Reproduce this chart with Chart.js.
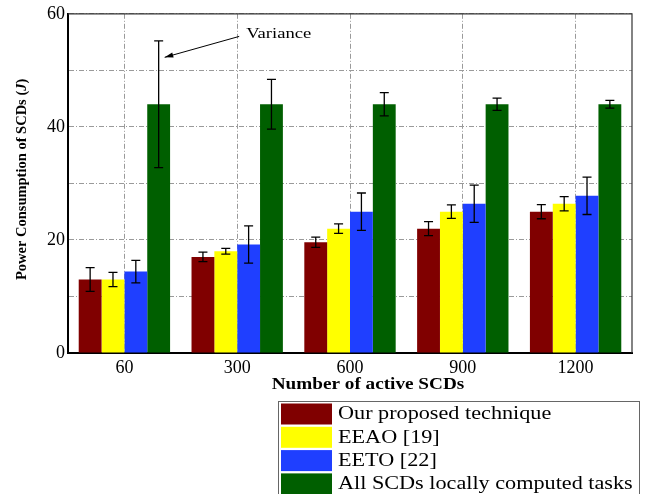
<!DOCTYPE html>
<html>
<head>
<meta charset="utf-8">
<script src="https://cdn.jsdelivr.net/npm/chart.js@4.4.1/dist/chart.umd.min.js"></script>
<style>
  html, body { margin: 0; padding: 0; background: #fff; }
  #wrap { width: 649px; height: 494px; position: relative; }
</style>
</head>
<body>
<div id="wrap"><canvas id="myChart"></canvas></div>
<script>
const categories = ['60', '300', '600', '900', '1200'];
const seriesNames = ['Our proposed technique', 'EEAO [19]', 'EETO [22]', 'All SCDs locally computed tasks'];
const seriesColors = ['#800000', '#ffff00', '#1f3fff', '#005f00'];
const proposed = [13.0, 17.0, 19.6, 22.0, 25.0];
const eeao = [13.0, 18.0, 22.0, 25.0, 26.4];
const eeto = [14.4, 19.2, 25.0, 26.4, 27.8];
const local = [44, 44, 44, 44, 44];
// half-length of each error bar
const proposedErr = [2.1, 0.85, 0.9, 1.25, 1.25];
const eeaoErr = [1.25, 0.5, 0.85, 1.2, 1.25];
const eetoErr = [2.0, 3.3, 3.3, 3.3, 3.3];
const localErr = [11.2, 4.4, 2.05, 1.1, 0.7];
const yTickLabels = [0, 20, 40, 60];

const SERIF = '"Liberation Serif", "Times New Roman", serif';

// text drawn a bit wider than the font, like the rest of the figure
function wideText(ctx, text, x, y, align) {
    ctx.save();
    ctx.translate(x, y);
    ctx.scale(1.2, 1);
    ctx.textAlign = align || 'left';
    ctx.fillText(text, 0, 0);
    ctx.restore();
}

const errorBars = {
    id: 'errorBars',
    afterDatasetsDraw(chart) {
        const { ctx, scales: { y } } = chart;
        ctx.save();
        ctx.strokeStyle = '#000';
        ctx.lineWidth = 1.3;
        chart.data.datasets.forEach((ds, i) => {
            chart.getDatasetMeta(i).data.forEach((bar, j) => {
                const top = y.getPixelForValue(ds.data[j] + ds.errors[j]);
                const bot = y.getPixelForValue(ds.data[j] - ds.errors[j]);
                ctx.beginPath();
                ctx.moveTo(bar.x, top); ctx.lineTo(bar.x, bot);
                ctx.moveTo(bar.x - 4.5, top); ctx.lineTo(bar.x + 4.5, top);
                ctx.moveTo(bar.x - 4.5, bot); ctx.lineTo(bar.x + 4.5, bot);
                ctx.stroke();
            });
        });
        ctx.restore();
    }
};

const extras = {
    id: 'extras',
    afterDraw(chart) {
        const { ctx, chartArea: a, scales: { x, y } } = chart;
        ctx.save();

        // top and right frame
        ctx.strokeStyle = '#333';
        ctx.lineWidth = 1.2;
        ctx.beginPath();
        ctx.moveTo(a.left, a.top); ctx.lineTo(a.right, a.top); ctx.lineTo(a.right, a.bottom);
        ctx.stroke();

        // axis titles
        ctx.fillStyle = '#000';
        ctx.textBaseline = 'middle';
        ctx.font = 'bold 16px ' + SERIF;
        wideText(ctx, 'Number of active SCDs', (a.left + a.right) / 2 + 18, a.bottom + 32, 'center');

        ctx.save();
        ctx.translate(22, (a.top + a.bottom) / 2 - 4);
        ctx.rotate(-Math.PI / 2);
        const parts = [['Power Consumption of SCDs (', 'bold'], ['J', 'italic bold'], [')', 'bold']];
        let total = 0;
        parts.forEach(p => { ctx.font = p[1] + ' 14.5px ' + SERIF; total += ctx.measureText(p[0]).width; });
        let px = -total / 2;
        ctx.textAlign = 'left';
        parts.forEach(p => {
            ctx.font = p[1] + ' 14.5px ' + SERIF;
            ctx.fillText(p[0], px, 0);
            px += ctx.measureText(p[0]).width;
        });
        ctx.restore();

        // "Variance" note pointing at the first error bar
        const green = chart.getDatasetMeta(3).data[0];
        const tipX = green.x + 6, tipY = y.getPixelForValue(52.3);
        const tailX = x.getPixelForValue(1) + 2, tailY = y.getPixelForValue(56);
        ctx.strokeStyle = '#000';
        ctx.lineWidth = 1;
        ctx.beginPath();
        ctx.moveTo(tailX, tailY); ctx.lineTo(tipX, tipY);
        ctx.stroke();
        const ang = Math.atan2(tipY - tailY, tipX - tailX);
        ctx.beginPath();
        ctx.moveTo(tipX, tipY);
        ctx.lineTo(tipX - 9 * Math.cos(ang - 0.3), tipY - 9 * Math.sin(ang - 0.3));
        ctx.lineTo(tipX - 9 * Math.cos(ang + 0.3), tipY - 9 * Math.sin(ang + 0.3));
        ctx.closePath();
        ctx.fill();
        ctx.font = '15.5px ' + SERIF;
        wideText(ctx, 'Variance', tailX + 7, tailY - 2, 'left');

        // legend box
        const lx = 278, ly = 401;
        ctx.fillStyle = '#fff';
        ctx.fillRect(lx, ly, 362, 100);
        ctx.strokeStyle = '#666';
        ctx.lineWidth = 1;
        ctx.strokeRect(lx + 0.5, ly + 0.5, 361, 100);
        ctx.font = '18.5px ' + SERIF;
        chart.data.datasets.forEach((ds, i) => {
            const rowY = ly + 2.5 + i * 23.3;
            ctx.fillStyle = ds.backgroundColor;
            ctx.fillRect(lx + 3, rowY, 51, 21);
            ctx.fillStyle = '#000';
            wideText(ctx, ds.label, lx + 60, rowY + 11, 'left');
        });
        ctx.restore();
    }
};

const values = [proposed, eeao, eeto, local];
const errors = [proposedErr, eeaoErr, eetoErr, localErr];

const config = {
    type: 'bar',
    data: {
        labels: categories,
        datasets: seriesNames.map((name, i) => ({
            label: name,
            data: values[i],
            errors: errors[i],
            backgroundColor: seriesColors[i],
            borderWidth: 0,
            categoryPercentage: 0.81,
            barPercentage: 1.0
        }))
    },
    options: {
        responsive: true,
        maintainAspectRatio: false,
        animation: false,
        layout: { padding: { left: 0, top: 11, right: 17, bottom: 96 } },
        plugins: {
            legend: { display: false },
            tooltip: { enabled: false }
        },
        scales: {
            x: {
                grid: { offset: false, color: '#9a9a9a', drawTicks: false },
                border: { color: '#000', width: 2, dash: [5, 2, 1, 2] },
                ticks: { color: '#000', font: { family: SERIF, size: 18 }, padding: 4 },
                afterFit: (s) => { s.height = 45; }
            },
            y: {
                min: 0,
                max: 60,
                grid: { color: '#9a9a9a', drawTicks: false },
                border: { color: '#000', width: 2, dash: [5, 2, 1, 2] },
                ticks: {
                    stepSize: 10,
                    color: '#000',
                    font: { family: SERIF, size: 18 },
                    padding: 3,
                    callback: (v) => yTickLabels.includes(v) ? v : ''
                },
                afterFit: (s) => { s.width = 68; }
            }
        }
    },
    plugins: [errorBars, extras]
};

var myChart = new Chart(document.getElementById('myChart'), config);
</script>
</body>
</html>
